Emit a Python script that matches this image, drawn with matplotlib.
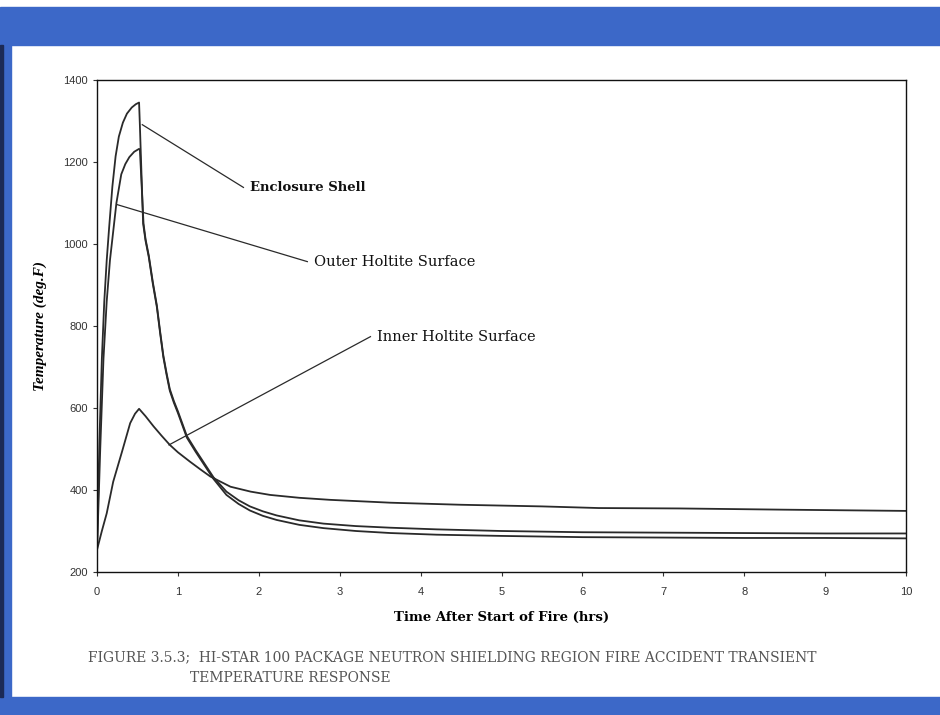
import matplotlib
matplotlib.use('Agg')
import matplotlib.pyplot as plt
from matplotlib.patches import Rectangle

# data (time in hrs, temperature in deg F)
t_enc = [0, 0.03, 0.06, 0.09, 0.12, 0.15, 0.19, 0.23, 0.27, 0.32, 0.37, 0.43, 0.48, 0.52,
         0.53, 0.545, 0.57, 0.60, 0.64, 0.69, 0.74, 0.78, 0.82, 0.86, 0.90, 0.95, 1.0, 1.11,
         1.22, 1.32, 1.44, 1.6, 1.75, 1.89, 2.05, 2.22, 2.5, 2.8, 3.2, 3.63, 4.2, 5.0, 6.0,
         7.0, 8.0, 9.0, 10.0]
T_enc = [250, 520, 720, 860, 960, 1040, 1140, 1214, 1262, 1296, 1318, 1333, 1341, 1345,
         1290, 1200, 1050, 1008, 968, 903, 846, 783, 724, 681, 642, 613, 588, 528,
         493, 463, 427, 388, 366, 350, 337, 327, 315, 307, 300, 295, 291, 288, 285,
         284, 283, 283, 282]

t_out = [0, 0.04, 0.08, 0.12, 0.16, 0.20, 0.24, 0.30, 0.35, 0.40, 0.46, 0.52, 0.53, 0.55,
         0.575, 0.60, 0.64, 0.69, 0.74, 0.78, 0.82, 0.86, 0.90, 0.95, 1.0, 1.11, 1.22, 1.32,
         1.44, 1.6, 1.75, 1.89, 2.05, 2.22, 2.5, 2.8, 3.2, 3.63, 4.2, 5.0, 6.0, 7.0, 8.0,
         9.0, 10.0]
T_out = [250, 500, 720, 860, 960, 1030, 1100, 1170, 1195, 1212, 1225, 1232, 1230, 1150,
         1050, 1012, 972, 907, 850, 787, 728, 685, 646, 617, 592, 532, 497, 467,
         431, 396, 375, 360, 348, 338, 326, 318, 312, 308, 304, 300, 297, 296, 295,
         294, 294]

t_inn = [0, 0.06, 0.12, 0.20, 0.31, 0.41, 0.47, 0.52, 0.6, 0.7, 0.8, 0.9, 1.0, 1.15, 1.28,
         1.4, 1.65, 1.9, 2.14, 2.5, 2.88, 3.63, 4.5, 5.5, 6.2, 7.2, 8.5, 10.0]
T_inn = [254, 300, 343, 420, 494, 563, 586, 598, 580, 555, 532, 510, 492, 469, 450,
         433, 408, 396, 388, 381, 376, 369, 364, 360, 356, 355, 352, 349]

# labels: (text, point on curve, label position, bold)
labels = [
    ('Enclosure Shell', (0.56, 1291), (1.81, 1138), True),
    ('Outer Holtite Surface', (0.25, 1096), (2.60, 957), False),
    ('Inner Holtite Surface', (0.89, 510), (3.38, 774), False),
]

x_ticks = list(range(0, 11))
y_ticks = [200, 400, 600, 800, 1000, 1200, 1400]

caption1 = 'FIGURE 3.5.3;  HI-STAR 100 PACKAGE NEUTRON SHIELDING REGION FIRE ACCIDENT TRANSIENT'
caption2 = 'TEMPERATURE RESPONSE'

blue = '#3c68c8'
ink = '#2a2a2a'

fig = plt.figure(figsize=(9.4, 7.15), dpi=100)

# scan frame: blue bands top, bottom and left
fig.patches.append(Rectangle((0, 1 - 45 / 715), 1, 38 / 715, transform=fig.transFigure,
                             color=blue, zorder=0))
fig.patches.append(Rectangle((0, 0), 1, 18 / 715, transform=fig.transFigure,
                             color=blue, zorder=0))
fig.patches.append(Rectangle((0, 18 / 715), 11 / 940, 1 - 63 / 715, transform=fig.transFigure,
                             color=blue, zorder=0))
fig.patches.append(Rectangle((0, 18 / 715), 3 / 940, 1 - 63 / 715, transform=fig.transFigure,
                             color='#1c2a55', zorder=0))

ax = fig.add_axes([97 / 940, 1 - 572 / 715, 809 / 940, 492 / 715])

ax.plot(t_enc, T_enc, color=ink, lw=1.3)
ax.plot(t_out, T_out, color=ink, lw=1.3)
ax.plot(t_inn, T_inn, color=ink, lw=1.3)

for text, pt, lab, bold in labels:
    ax.plot([pt[0], lab[0]], [pt[1], lab[1]], color=ink, lw=0.9)
    ax.text(lab[0] + 0.08, lab[1], text, fontsize=10.5 if not bold else 9.5,
            family='DejaVu Serif', fontweight='bold' if bold else 'normal',
            ha='left', va='center', color='#111')

ax.set_xlim(0, 10)
ax.set_ylim(200, 1400)
ax.set_xticks(x_ticks)
ax.set_yticks(y_ticks)
ax.tick_params(labelsize=8, colors='#333', length=3, width=0.8)
for lab in ax.get_xticklabels() + ax.get_yticklabels():
    lab.set_family('Liberation Sans')
ax.tick_params(axis='x', pad=8)
for s in ax.spines.values():
    s.set_color('#111')
    s.set_linewidth(1.0)

ax.set_xlabel('Time After Start of Fire (hrs)', fontsize=9.5, family='DejaVu Serif',
              fontweight='bold', labelpad=10)
ax.set_ylabel('Temperature (deg.F)', fontsize=11, family='Liberation Serif',
              fontweight='bold', style='italic', labelpad=12)

fig.text(88 / 940, 1 - 657 / 715, caption1, fontsize=10, family='DejaVu Serif',
         color='#555', ha='left', va='center')
fig.text(190 / 940, 1 - 678 / 715, caption2, fontsize=10, family='DejaVu Serif',
         color='#555', ha='left', va='center')

fig.savefig('out.png', dpi=100)
